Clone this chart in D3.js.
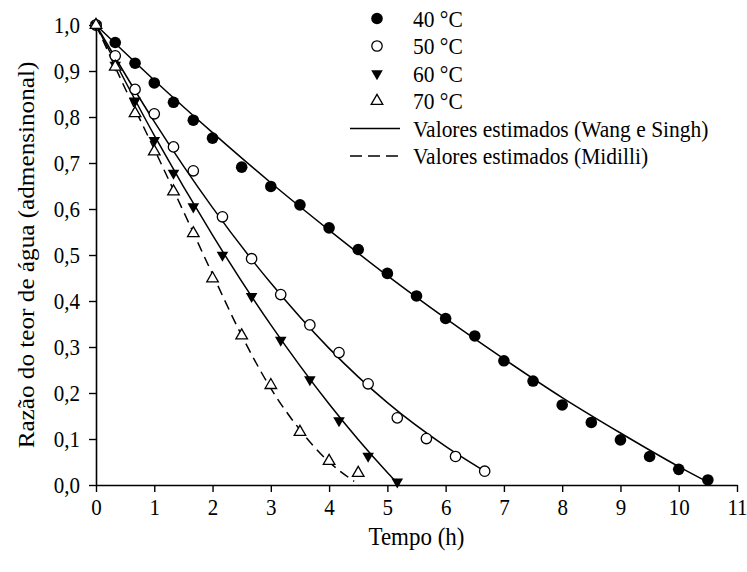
<!DOCTYPE html>
<html>
<head>
<meta charset="utf-8">
<script src="https://cdn.jsdelivr.net/npm/d3@7"></script>
<style>
  body { margin: 0; background: #fff; }
  svg text { font-family: "Liberation Serif", "Times New Roman", serif; fill: #000; }
  /* the reference text is a little taller than it is wide */
  svg text.tall { transform-box: fill-box; transform-origin: center; transform: scaleY(1.12); }
</style>
</head>
<body>
<svg id="chart" width="747" height="572"></svg>
<script>
// observed points
const time40 = [0, 0.33, 0.67, 1, 1.33, 1.67, 2, 2.5, 3, 3.5, 4, 4.5, 5, 5.5, 6, 6.5, 7, 7.5, 8, 8.5, 9, 9.5, 10, 10.5];
const mr40 = [1, 0.962, 0.917, 0.874, 0.832, 0.793, 0.754, 0.691, 0.649, 0.609, 0.559, 0.512, 0.46, 0.411, 0.362, 0.324, 0.27, 0.226, 0.174, 0.136, 0.098, 0.062, 0.034, 0.011];
const time50 = [0, 0.33, 0.67, 1, 1.33, 1.67, 2.17, 2.67, 3.17, 3.67, 4.17, 4.67, 5.17, 5.67, 6.17, 6.67];
const mr50 = [1, 0.933, 0.86, 0.807, 0.735, 0.683, 0.583, 0.492, 0.414, 0.348, 0.288, 0.22, 0.146, 0.101, 0.062, 0.03];
const time60 = [0, 0.33, 0.67, 1, 1.33, 1.67, 2.17, 2.67, 3.17, 3.67, 4.17, 4.67, 5.17];
const mr60 = [1, 0.913, 0.835, 0.749, 0.678, 0.605, 0.5, 0.41, 0.315, 0.229, 0.14, 0.063, 0.007];
const time70 = [0, 0.33, 0.67, 1, 1.33, 1.67, 2, 2.5, 3, 3.5, 4, 4.5];
const mr70 = [1, 0.909, 0.808, 0.725, 0.638, 0.547, 0.449, 0.325, 0.217, 0.115, 0.052, 0.026];

// estimated curves
const fitTime40 = [0, 1, 2, 3, 4, 5, 6, 7, 8, 9, 10, 10.55];
const fit40 = [1, 0.88, 0.766, 0.657, 0.554, 0.455, 0.362, 0.274, 0.19, 0.113, 0.04, 0.003];
const fitTime50 = [0, 1, 2, 3, 4, 5, 6, 6.67];
const fit50 = [1, 0.79, 0.603, 0.439, 0.297, 0.179, 0.084, 0.03];
const fitTime60 = [0, 1, 2, 3, 4, 5, 5.2];
const fit60 = [1, 0.76, 0.543, 0.348, 0.176, 0.027, 0.0];
const fitTime70 = [0, 0.5, 1, 1.5, 2, 2.5, 3, 3.5, 4, 4.43];
const fit70 = [1, 0.862, 0.73, 0.595, 0.458, 0.325, 0.21, 0.12, 0.05, 0.008];

const xTicks = [0, 1, 2, 3, 4, 5, 6, 7, 8, 9, 10, 11];
const yTicks = [0, 0.1, 0.2, 0.3, 0.4, 0.5, 0.6, 0.7, 0.8, 0.9, 1.0];

const legendLabels = ["40 °C", "50 °C", "60 °C", "70 °C",
  "Valores estimados (Wang e Singh)", "Valores estimados (Midilli)"];

var serif = "Liberation Serif";
var svg = d3.select("#chart");
var plotLeft = 96, plotRight = 737, plotTop = 25, plotBottom = 485;

var x = d3.scaleLinear().domain([0, 11]).range([plotLeft, plotRight]);
var y = d3.scaleLinear().domain([0, 1]).range([plotBottom, plotTop]);

var zip = function (a, b) { return a.map(function (v, i) { return [v, b[i]]; }); };

// axes
var xAxis = svg.append("g")
  .attr("transform", "translate(0," + plotBottom + ")")
  .call(d3.axisBottom(x).tickValues(xTicks).tickSize(7).tickSizeOuter(0).tickPadding(7)
    .tickFormat(d3.format("d")));
var yAxis = svg.append("g")
  .attr("transform", "translate(" + plotLeft + ",0)")
  .call(d3.axisLeft(y).tickValues(yTicks).tickSize(7).tickSizeOuter(0).tickPadding(9)
    .tickFormat(function (d) { return d3.format(".1f")(d).replace(".", ","); }));
[xAxis, yAxis].forEach(function (g) {
  g.attr("font-family", serif);
  g.select(".domain").attr("stroke", "#000").attr("stroke-width", 1.6);
  g.selectAll(".tick line").attr("stroke", "#000").attr("stroke-width", 1.4);
  g.selectAll(".tick text").attr("font-size", 21).attr("class", "tall");
});

// axis titles
svg.append("text")
  .attr("class", "tall")
  .attr("x", (plotLeft + plotRight) / 2)
  .attr("y", 544)
  .attr("text-anchor", "middle")
  .attr("font-family", serif)
  .attr("font-size", 23)
  .text("Tempo (h)");
svg.append("text")
  .attr("transform", "translate(34," + (plotTop + plotBottom) / 2 + ") rotate(-90) scale(1.12,1)")
  .attr("text-anchor", "middle")
  .attr("font-family", serif)
  .attr("font-size", 22.5)
  .text("Razão do teor de água (admensinonal)");

// curves
var line = d3.line()
  .x(function (d) { return x(d[0]); })
  .y(function (d) { return y(d[1]); })
  .curve(d3.curveMonotoneX);

var curves = [
  { pts: zip(fitTime40, fit40), dash: null },
  { pts: zip(fitTime50, fit50), dash: null },
  { pts: zip(fitTime60, fit60), dash: null },
  { pts: zip(fitTime70, fit70), dash: "10,6" }
];
svg.append("g").selectAll("path")
  .data(curves)
  .enter()
  .append("path")
  .attr("d", function (d) { return line(d.pts); })
  .attr("fill", "none")
  .attr("stroke", "#000")
  .attr("stroke-width", 1.5)
  .attr("stroke-dasharray", function (d) { return d.dash; });

// markers
var triUp = d3.symbol().type(d3.symbolTriangle).size(58);
function drawMarker(g, kind) {
  if (kind == "filledCircle") {
    g.append("circle").attr("r", 5.8).attr("fill", "#000");
  } else if (kind == "openCircle") {
    g.append("circle").attr("r", 5.2).attr("fill", "#fff").attr("stroke", "#000").attr("stroke-width", 1.3);
  } else if (kind == "filledDown") {
    g.append("path").attr("d", triUp()).attr("transform", "rotate(180)").attr("fill", "#000");
  } else {
    g.append("path").attr("d", triUp()).attr("fill", "#fff").attr("stroke", "#000").attr("stroke-width", 1.3);
  }
}

var series = [
  { pts: zip(time40, mr40), kind: "filledCircle" },
  { pts: zip(time50, mr50), kind: "openCircle" },
  { pts: zip(time60, mr60), kind: "filledDown" },
  { pts: zip(time70, mr70), kind: "openUp" }
];
series.forEach(function (s) {
  svg.append("g").selectAll("g")
    .data(s.pts)
    .enter()
    .append("g")
    .attr("transform", function (d) { return "translate(" + x(d[0]) + "," + y(d[1]) + ")"; })
    .each(function () { drawMarker(d3.select(this), s.kind); });
});

// legend
var legend = svg.append("g");
var kinds = ["filledCircle", "openCircle", "filledDown", "openUp", "solid", "dashed"];
kinds.forEach(function (k, i) {
  var ly = 18.5 + i * 27.5;
  var row = legend.append("g").attr("transform", "translate(0," + ly + ")");
  if (k == "solid" || k == "dashed") {
    row.append("line")
      .attr("x1", 350).attr("x2", 400)
      .attr("stroke", "#000").attr("stroke-width", 1.5)
      .attr("stroke-dasharray", k == "dashed" ? "12,6" : null);
  } else {
    drawMarker(row.append("g").attr("transform", "translate(377,0)"), k);
  }
  row.append("text")
    .attr("class", "tall")
    .attr("x", 413)
    .attr("dy", "0.35em")
    .attr("font-family", serif)
    .attr("font-size", 21.5)
    .text(legendLabels[i]);
});
</script>
</body>
</html>
